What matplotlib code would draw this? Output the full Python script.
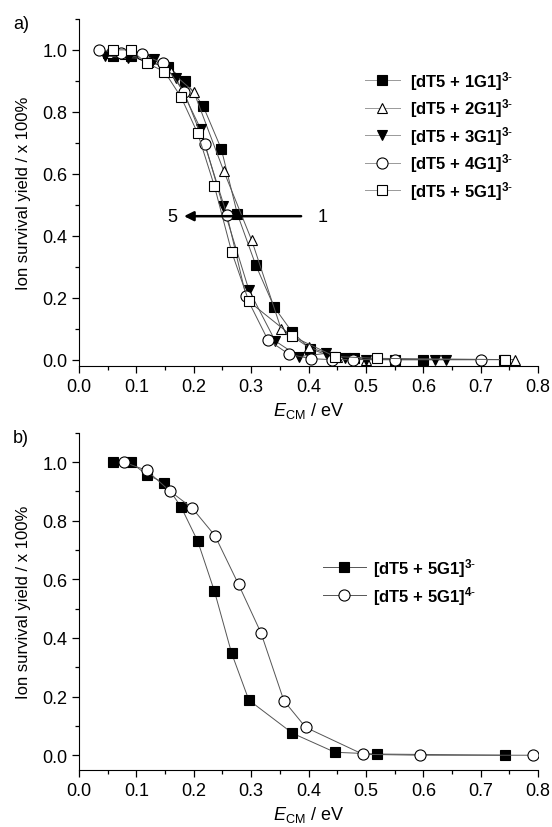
import matplotlib
matplotlib.use("Agg")
import matplotlib.pyplot as plt
from matplotlib.ticker import MultipleLocator

plt.rcParams["font.family"] = ["Liberation Sans", "DejaVu Sans"]
plt.rcParams["mathtext.fontset"] = "custom"
plt.rcParams["mathtext.rm"] = "Liberation Sans"
plt.rcParams["mathtext.it"] = "Liberation Sans:italic"
plt.rcParams["mathtext.bf"] = "Liberation Sans:bold"

# Panel a) data: survival yield vs collision energy for dT5 + nG1 complexes (3-)
x_1g1 = [0.06, 0.09, 0.12, 0.155, 0.185, 0.216, 0.248, 0.276, 0.308, 0.34, 0.371, 0.403, 0.44, 0.48, 0.55, 0.6, 0.74]
y_1g1 = [0.98, 0.98, 0.96, 0.945, 0.90, 0.82, 0.68, 0.47, 0.305, 0.17, 0.09, 0.035, 0.01, 0.005, 0.0, 0.0, 0.0]

x_2g1 = [0.05, 0.08, 0.12, 0.16, 0.20, 0.252, 0.301, 0.352, 0.40, 0.45, 0.50, 0.55, 0.76]
y_2g1 = [0.99, 0.985, 0.97, 0.93, 0.865, 0.61, 0.385, 0.10, 0.04, 0.01, 0.0, 0.0, 0.0]

x_3g1 = [0.045, 0.085, 0.13, 0.169, 0.212, 0.251, 0.296, 0.342, 0.383, 0.43, 0.464, 0.50, 0.62, 0.64]
y_3g1 = [0.98, 0.975, 0.97, 0.91, 0.745, 0.495, 0.225, 0.06, 0.01, 0.02, 0.005, 0.0, 0.0, 0.0]

x_4g1 = [0.035, 0.073, 0.109, 0.147, 0.183, 0.219, 0.258, 0.291, 0.329, 0.366, 0.404, 0.44, 0.477, 0.55, 0.70]
y_4g1 = [1.0, 0.99, 0.985, 0.957, 0.864, 0.695, 0.466, 0.205, 0.064, 0.017, 0.003, 0.0, 0.0, 0.0, 0.0]

x_5g1 = [0.059, 0.09, 0.118, 0.149, 0.178, 0.207, 0.236, 0.266, 0.296, 0.372, 0.446, 0.52, 0.743]
y_5g1 = [1.0, 1.0, 0.957, 0.93, 0.847, 0.73, 0.56, 0.348, 0.188, 0.075, 0.01, 0.004, 0.0]

# Panel b) data: [dT5 + 5G1] in charge states 3- (same as above) and 4-
x_5g1_4m = [0.078, 0.118, 0.158, 0.197, 0.237, 0.278, 0.317, 0.357, 0.395, 0.495, 0.594, 0.791]
y_5g1_4m = [1.0, 0.972, 0.902, 0.844, 0.749, 0.583, 0.418, 0.186, 0.095, 0.003, 0.0, 0.0]

labels_a = ["1G1", "2G1", "3G1", "4G1", "5G1"]

LINE_COLOR = "#555555"


def legend_label(name, charge):
    return "[dT5 + " + name + "]" + r"$^{\mathregular{" + charge + r"\text{-}}}$"


def style_axes(ax, ymin):
    ax.set_xlim(0.0, 0.8)
    ax.set_ylim(ymin, 1.1)
    ax.spines["top"].set_visible(False)
    ax.spines["right"].set_visible(False)
    ax.xaxis.set_major_locator(MultipleLocator(0.1))
    ax.xaxis.set_minor_locator(MultipleLocator(0.05))
    ax.yaxis.set_major_locator(MultipleLocator(0.2))
    ax.yaxis.set_minor_locator(MultipleLocator(0.1))
    ax.tick_params(which="major", direction="out", length=5, width=0.9, labelsize=13)
    ax.tick_params(which="minor", direction="out", length=3, width=0.9)
    ax.xaxis.set_major_formatter(plt.FuncFormatter(lambda v, p: "%.1f" % v))
    ax.yaxis.set_major_formatter(plt.FuncFormatter(lambda v, p: "%.1f" % v))
    ax.set_xlabel(r"$\mathit{E}_{\mathregular{CM}}$ / eV", fontsize=13, labelpad=4)
    ax.set_ylabel("Ion survival yield / x 100%", fontsize=12, labelpad=8)


fig = plt.figure(figsize=(5.52, 8.28), dpi=100)
ax_a = fig.add_axes([0.143, 0.557, 0.832, 0.419])
ax_b = fig.add_axes([0.143, 0.069, 0.832, 0.407])

# ---- panel a ----
series_a = [
    (x_1g1, y_1g1, "s", "black"),
    (x_2g1, y_2g1, "^", "white"),
    (x_3g1, y_3g1, "v", "black"),
    (x_4g1, y_4g1, "o", "white"),
    (x_5g1, y_5g1, "s", "white"),
]
for (xs, ys, mk, fc), name in zip(series_a, labels_a):
    ms = 8 if mk == "o" else 7
    ax_a.plot(xs, ys, color=LINE_COLOR, lw=0.7, marker=mk, ms=ms,
              mfc=fc, mec="black", mew=0.8, label=legend_label(name, "3"))

ax_a.annotate("", xy=(0.183, 0.463), xytext=(0.387, 0.463),
              arrowprops=dict(arrowstyle="-|>", color="black", lw=1.8,
                              mutation_scale=14, shrinkA=0, shrinkB=0))
ax_a.text(0.163, 0.463, "5", fontsize=13, ha="center", va="center")
ax_a.text(0.424, 0.463, "1", fontsize=13, ha="center", va="center")

style_axes(ax_a, -0.02)
leg_a = ax_a.legend(loc="upper left", bbox_to_anchor=(0.597, 0.89), frameon=False,
                    prop={"weight": "bold", "size": 12}, handlelength=2.1,
                    handletextpad=0.6, labelspacing=0.28, borderpad=0.2)
for line in leg_a.get_lines():
    line.set_color("#999999")
fig.text(0.038, 0.971, "a)", fontsize=13, ha="center", va="center")

# ---- panel b ----
ax_b.plot(x_5g1, y_5g1, color=LINE_COLOR, lw=0.7, marker="s", ms=7,
          mfc="black", mec="black", mew=0.8, label=legend_label("5G1", "3"))
ax_b.plot(x_5g1_4m, y_5g1_4m, color=LINE_COLOR, lw=0.7, marker="o", ms=8,
          mfc="white", mec="black", mew=0.8, label=legend_label("5G1", "4"))

style_axes(ax_b, -0.05)
leg_b = ax_b.legend(loc="upper left", bbox_to_anchor=(0.505, 0.67), frameon=False,
                    prop={"weight": "bold", "size": 12}, handlelength=2.6,
                    handletextpad=0.4, labelspacing=0.3, borderpad=0.2)
fig.text(0.038, 0.47, "b)", fontsize=13, ha="center", va="center")

fig.savefig("out.png", dpi=100)
